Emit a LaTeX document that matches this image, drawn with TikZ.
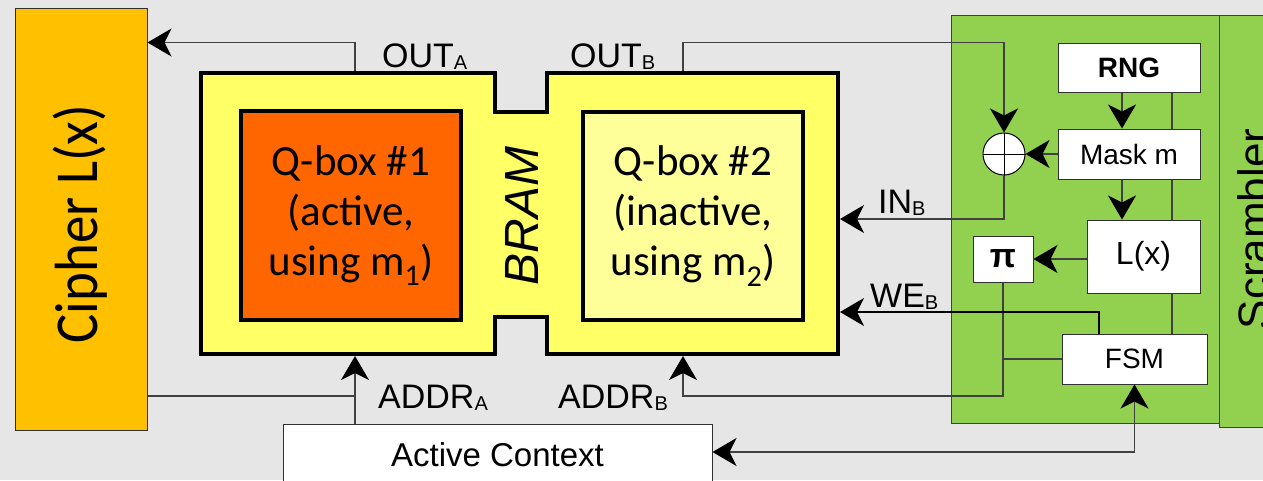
\documentclass[tikz,border=0pt]{standalone}
\usepackage{fontspec}
\setmainfont{Liberation Sans}
\newfontfamily\calfont{Carlito}
\usetikzlibrary{arrows.meta}
\definecolor{bgc}{HTML}{E6E6E6}
\definecolor{cipherc}{HTML}{FFC000}
\definecolor{bramc}{HTML}{FFFF66}
\definecolor{qonec}{HTML}{FF6600}
\definecolor{qtwoc}{HTML}{FFFF99}
\definecolor{greenc}{HTML}{92D050}
\definecolor{linec}{HTML}{404040}
\definecolor{boxc}{HTML}{303030}
\newcommand\lsub[1]{\raisebox{-2pt}{\fontsize{20}{20}\selectfont #1}}
\begin{document}
\begin{tikzpicture}[x=1pt,y=-1pt,
  >={Stealth[length=24pt,width=28pt,inset=7pt,color=black]},
  conn/.style={draw=linec, line width=1.3pt},
  arr/.style={conn, ->},
  wbox/.style={draw=boxc, line width=1pt, fill=white, inner sep=0pt},
  qbox/.style={draw=black, line width=4pt, inner sep=0pt, align=center,
    font=\calfont\fontsize{43}{50}\selectfont},
  panel/.style={draw=linec, line width=1pt, fill=greenc, inner sep=0pt},
  lbl/.style={inner sep=0pt, anchor=base west, font=\fontsize{34}{34}\selectfont},
]
\useasboundingbox (0,0) rectangle (1263,480);
\clip (0,0) rectangle (1263,480);
\fill[bgc] (0,0) rectangle (1263,480);

% Cipher
\node[draw=boxc, line width=1pt, fill=cipherc, minimum width=132pt, minimum height=422pt, inner sep=0pt] (cipher) at (81,219) {};
\node[rotate=90, anchor=base, inner sep=0pt, font=\calfont\fontsize{61}{61}\selectfont] (ciphertext) at (97,224) {\scalebox{0.9}[1]{Cipher L(x)}};

% BRAM
\draw[line width=4pt, fill=bramc, line join=miter] (201,73) -- (495,73) -- (495,112) -- (547,112) -- (547,73) -- (838,73) -- (838,354) -- (547,354) -- (547,317) -- (495,317) -- (495,354) -- (201,354) -- cycle;
\node[qbox, fill=qonec, minimum width=220pt, minimum height=209pt] (q1) at (351,215.5) {Q-box \#1\\(active,\\using m\textsubscript{1})};
\node[qbox, fill=qtwoc, minimum width=220pt, minimum height=208pt] (q2) at (693,216) {Q-box \#2\\(inactive,\\using m\textsubscript{2})};
\node[rotate=90, anchor=base, inner sep=0pt, font=\itshape\fontsize{48}{48}\selectfont] (bramtext) at (538,216) {BRAM};

% Scrambler panels
\node[panel, minimum width=268pt, minimum height=408pt] (scr) at (1085,219) {};
\node[panel, minimum width=81pt, minimum height=412pt] (scrtwo) at (1259.5,221) {};
\node[rotate=90, anchor=base, inner sep=0pt, font=\fontsize{44}{44}\selectfont] (scrtext) at (1269,229) {Scrambler};

% coordinates
\coordinate (yTop) at (0,42.5);
\coordinate (oA) at (355,71);
\coordinate (oB) at (683,71);
\coordinate (inB) at (840,219);
\coordinate (weB) at (840,312);
\coordinate (aA) at (355,356);
\coordinate (aB) at (683,356);
\coordinate (yAB) at (0,396);
\coordinate (yC) at (0,452);
\coordinate (xL) at (1172,0);
\coordinate (xM) at (1122,0);
\coordinate (xWE) at (1099,0);

% behind-box line
\draw[conn] (1172,92) -- (1172,334);

% white boxes
\node[wbox, minimum width=142pt, minimum height=49pt, font=\bfseries\fontsize{28}{28}\selectfont] (RNG) at (1129,67.5) {RNG};
\node[wbox, minimum width=142pt, minimum height=50pt, font=\fontsize{28}{28}\selectfont] (Mask) at (1129,154) {Mask m};
\node[wbox, minimum width=113pt, minimum height=73pt, font=\fontsize{32}{32}\selectfont] (Lx) at (1143.5,256.5) {L(x)};
\node[wbox, minimum width=60pt, minimum height=46pt, font=\bfseries\fontsize{34}{34}\selectfont] (pi) at (1003,259) {π};
\node[wbox, minimum width=145pt, minimum height=50pt, font=\fontsize{28}{28}\selectfont] (FSM) at (1134.5,359) {FSM};
\node[wbox, minimum width=429pt, minimum height=62pt, font=\fontsize{33}{33}\selectfont] (AC) at (497.5,455) {Active Context};
\node[draw=black, line width=1pt, fill=white, circle, minimum size=42pt, inner sep=0pt] (xor) at (1004,154) {};
\draw[black, line width=1pt] (xor.north) -- (xor.south) (xor.west) -- (xor.east);

% connectors
\draw[arr] (oA) |- (cipher.east |- yTop);
\draw[arr] (oB) |- (xor.north |- yTop) -- (xor.north);
\draw[arr] (xor.south) |- (inB);
\draw[arr] (Mask.west) -- (xor.east);
\draw[arr] (RNG.south -| xM) -- (Mask.north -| xM);
\draw[arr] (Mask.south -| xM) -- (Lx.north -| xM);
\draw[arr] (pi.east -| Lx.west) -- (pi.east);
\draw[arr] (pi.south) |- (aB |- yAB) -- (aB);
\draw[conn] (FSM.west) -- (FSM.west -| pi.south);
\draw[arr, draw=black] (FSM.north -| xWE) |- (weB);
\draw[arr] (AC.north -| aA) -- (aA);
\draw[conn] (cipher.east |- yAB) -- (aA |- yAB);
\draw[conn, <->] (AC.east |- yC) -| (FSM.south);

% labels
\node[lbl] (lOA) at (382,67) {OUT\lsub{A}};
\node[lbl] (lOB) at (570,67) {OUT\lsub{B}};
\node[lbl] (lIB) at (878,213) {IN\lsub{B}};
\node[lbl] (lWB) at (870,307) {WE\lsub{B}};
\node[lbl] (lAA) at (378,408) {ADDR\lsub{A}};
\node[lbl] (lAB) at (558,408) {ADDR\lsub{B}};
\end{tikzpicture}
\end{document}
